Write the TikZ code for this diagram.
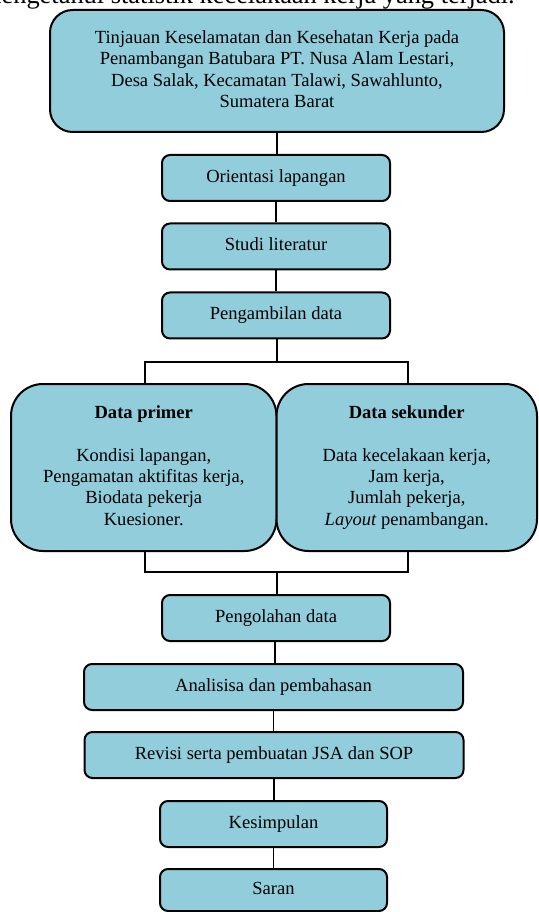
\documentclass[tikz,border=0pt]{standalone}
\usepackage{fontspec}
\setmainfont{Liberation Serif}
\definecolor{boxfill}{HTML}{92CDDC}
\begin{document}
\begin{tikzpicture}[x=0.75pt,y=-0.75pt,
  box/.style={draw=black, fill=boxfill, line width=1.5pt, inner sep=0pt, align=center,
    font=\fontsize{13.9}{16.1}\selectfont},
  sbox/.style={box, rounded corners=6pt, minimum width=228*0.75pt, minimum height=46*0.75pt},
  wbox/.style={box, rounded corners=6pt, minimum width=379*0.75pt, minimum height=46*0.75pt},
  dbox/.style={box, rounded corners=24pt, minimum height=167*0.75pt},
  conn/.style={draw=black, line width=1.4pt}]
\useasboundingbox (0,0) rectangle (538,912);
\clip (0,0) rectangle (538,912);

\node[anchor=base east, inner sep=0pt, font=\fontsize{19.8}{22}\selectfont] (body) at (515,3.5)
  {mengetahui statistik kecelakaan kerja yang terjadi.};

\node[box, rounded corners=17pt, minimum width=454*0.75pt, minimum height=122*0.75pt] (top) at (277,71)
  {\strut Tinjauan Keselamatan dan Kesehatan Kerja pada\\Penambangan Batubara PT. Nusa Alam Lestari,\\Desa Salak, Kecamatan Talawi, Sawahlunto,\\Sumatera Barat\strut};
\node[sbox] (orient) at (276,178) {\strut Orientasi lapangan};
\node[sbox] (studi) at (276,246.5) {\strut Studi literatur};
\node[sbox] (ambil) at (276,315.5) {\strut Pengambilan data};

\node[dbox, minimum width=265.5*0.75pt] (primer) at (143.75,467.5)
  {\strut\textbf{Data primer}\\\mbox{}\\Kondisi lapangan,\\Pengamatan aktifitas kerja,\\Biodata pekerja\\Kuesioner.\strut};
\node[dbox, minimum width=260.5*0.75pt] (sekunder) at (406.75,467.5)
  {\strut\textbf{Data sekunder}\\\mbox{}\\Data kecelakaan kerja,\\Jam kerja,\\Jumlah pekerja,\\\textit{Layout} penambangan.\strut};

\node[sbox] (olah) at (276,618) {\strut Pengolahan data};
\node[wbox] (analisis) at (273.5,687) {\strut Analisisa dan pembahasan};
\node[wbox] (revisi) at (274,755) {\strut Revisi serta pembuatan JSA dan SOP};
\node[sbox, minimum width=227*0.75pt] (simpul) at (273.5,824) {\strut Kesimpulan};
\node[sbox, minimum width=227*0.75pt, minimum height=42*0.75pt] (saran) at (273.5,890) {\strut Saran};

\coordinate (split) at (277,362);
\coordinate (join) at (277,572);

\draw[conn] (top.south) -- (top.south |- orient.north);
\draw[conn] (orient.south) -- (orient.south |- studi.north);
\draw[conn] (studi.south) -- (studi.south |- ambil.north);
\draw[conn] (split |- ambil.south) -- (split);
\draw[conn] ([xshift=1.5*0.75pt]primer.north) |- (split) -| ([xshift=1.5*0.75pt]sekunder.north);
\draw[conn] ([xshift=1.5*0.75pt]primer.south) |- (join) -| ([xshift=1.5*0.75pt]sekunder.south);
\draw[conn] (join) -- (join |- olah.north);
\draw[conn] ([xshift=-1*0.75pt]olah.south) -- ([xshift=-1*0.75pt]olah.south |- analisis.north);
\draw[conn] (analisis.south) -- (analisis.south |- revisi.north);
\draw[conn] (revisi.south) -- (revisi.south |- simpul.north);
\draw[conn] (simpul.south) -- (simpul.south |- saran.north);
\end{tikzpicture}
\end{document}
